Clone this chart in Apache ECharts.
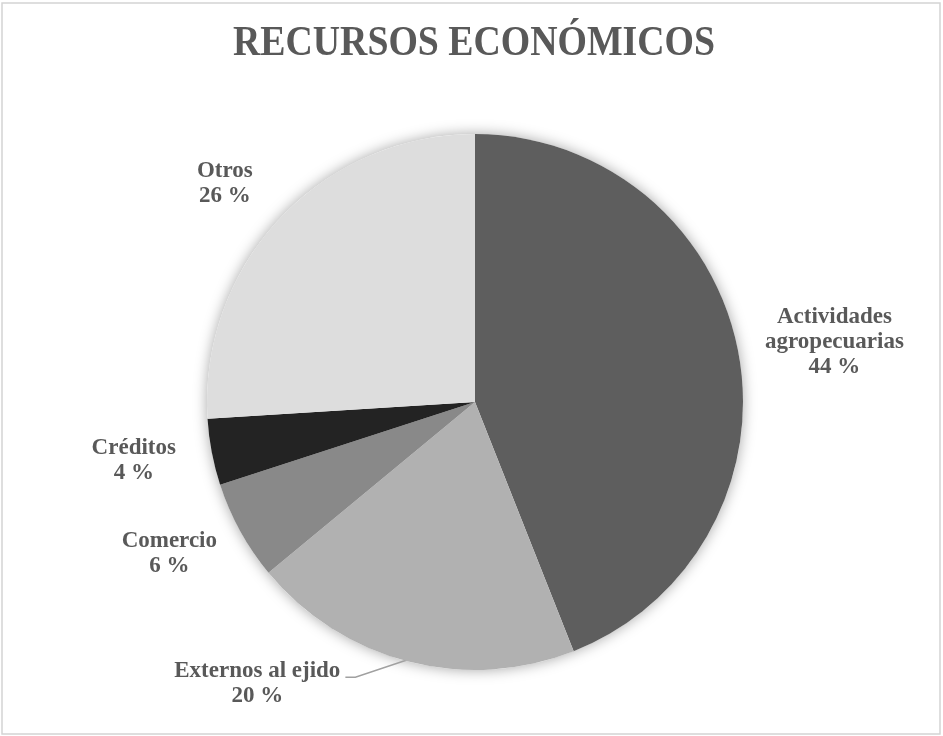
<!DOCTYPE html>
<html>
<head>
<meta charset="utf-8">
<script src="https://cdn.jsdelivr.net/npm/echarts@6/dist/echarts.min.js"></script>
<style>
html,body{margin:0;padding:0;background:#fff;}
#c{width:943px;height:736px;}
</style>
</head>
<body>
<div id="c"></div>
<script>
const categories = ['Actividades agropecuarias', 'Externos al ejido', 'Comercio', 'Créditos', 'Otros'];
const labelNames = ['Actividades\nagropecuarias', 'Externos al ejido', 'Comercio', 'Créditos', 'Otros'];
const values = [44, 20, 6, 4, 26];
const titleText = 'RECURSOS ECONÓMICOS';

const colors = ['#5e5e5e', '#b1b1b1', '#898989', '#232323', '#dddddd'];
const lineOpts = [
  {show: false, length: 10, length2: 12},
  {show: true, length: 12, length2: 60},
  {show: false, length: 15, length2: 5},
  {show: false, length: 10, length2: 21},
  {show: false, length: 30, length2: 0}
];
const nudgeY = [-8, 10, 15, 6, -14];

const chart = echarts.init(document.getElementById('c'), null, {renderer: 'canvas'});
const textColor = '#595959';
const serif = '"Liberation Serif", "Times New Roman", serif';

chart.setOption({
  backgroundColor: '#ffffff',
  animation: false,
  graphic: [
    {
      type: 'rect',
      shape: {x: 2, y: 3, width: 938, height: 731},
      style: {fill: 'none', stroke: '#d4d4d4', lineWidth: 1.5},
      silent: true, z: -1
    },
    {
      type: 'text',
      x: 474, y: 44,
      scaleX: 0.9,
      style: {
        text: titleText,
        fontFamily: serif, fontWeight: 'bold', fontSize: 42,
        fill: textColor, align: 'center', verticalAlign: 'middle'
      },
      silent: true
    }
  ],
  series: [
    {
      type: 'pie',
      silent: true,
      center: [475, 402],
      radius: 268,
      label: {show: false},
      labelLine: {show: false},
      itemStyle: {color: '#ffffff', shadowBlur: 14, shadowColor: 'rgba(0,0,0,0.35)'},
      data: [{value: 1, name: ''}],
      z: 1
    },
    {
      type: 'pie',
      center: [475, 402],
      radius: 268,
      startAngle: 90,
      clockwise: true,
      avoidLabelOverlap: false,
      z: 2,
      itemStyle: {borderWidth: 0},
      label: {
        show: true,
        position: 'outside',
        fontFamily: serif,
        fontWeight: 'bold',
        fontSize: 23,
        lineHeight: 25,
        color: textColor,
        formatter: function (p) { return labelNames[p.dataIndex] + '\n' + p.value + ' %'; }
      },
      labelLine: {lineStyle: {color: '#a0a0a0', width: 1.5}},
      labelLayout: function (p) {
        const w = p.labelRect.width;
        const out = {
          align: 'center',
          dx: p.align === 'left' ? w / 2 : (p.align === 'right' ? -w / 2 : 0),
          dy: nudgeY[p.dataIndex]
        };
        const pts = p.labelLinePoints;
        if (p.dataIndex === 1 && pts && pts.length === 3) {
          out.labelLinePoints = [
            [pts[0][0], pts[0][1] - 2],
            [pts[2][0] + 10, pts[2][1] + 4],
            [pts[2][0], pts[2][1] + 4]
          ];
        }
        return out;
      },
      data: categories.map(function (c, i) {
        return {
          name: c,
          value: values[i],
          itemStyle: {color: colors[i]},
          labelLine: lineOpts[i]
        };
      })
    }
  ]
});
</script>
</body>
</html>
